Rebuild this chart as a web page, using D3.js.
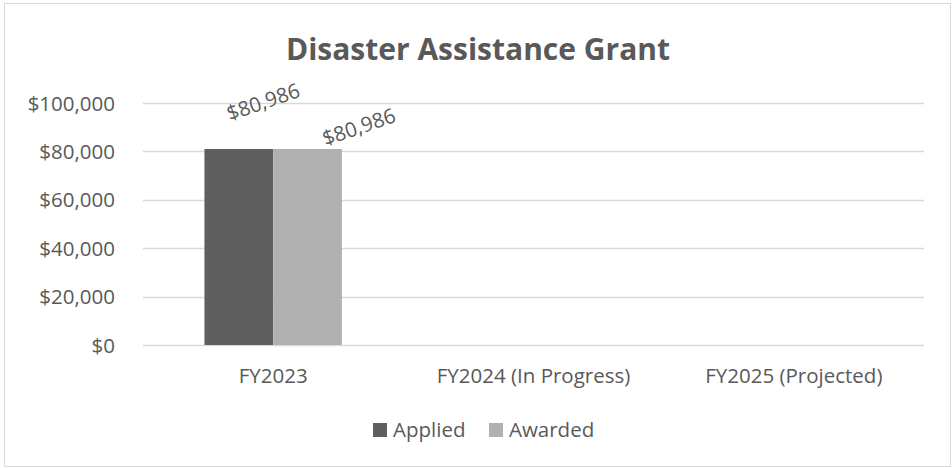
<!DOCTYPE html>
<html><head><meta charset="utf-8">
<script src="https://cdn.jsdelivr.net/npm/d3@7"></script>
<style>
body{margin:0;background:#fff;}
text{font-family:"Open Sans","DejaVu Sans",sans-serif;fill:#595959;}
</style></head>
<body><svg id="c" width="952" height="468"></svg>
<script>
const categories = ["FY2023", "FY2024 (In Progress)", "FY2025 (Projected)"];
const seriesNames = ["Applied", "Awarded"];
const applied = [80986, null, null];
const awarded = [80986, null, null];
const yTicks = [0, 20000, 40000, 60000, 80000, 100000];
const title = "Disaster Assistance Grant";
const colors = ["#5f5f5f", "#b0b0b0"];

const svg = d3.select("#c");
svg.append("rect").attr("x",4.5).attr("y",3.5).attr("width",946).attr("height",463)
  .attr("fill","#fff").attr("stroke","#d9d9d9").attr("stroke-width",1);

const m = {left:143, right:924, top:103, bottom:345};
const x = d3.scaleBand().domain(categories).range([m.left, m.right]).paddingInner(0.472).paddingOuter(0.236);
const x1 = d3.scaleBand().domain(seriesNames).range([0, x.bandwidth()]);
const y = d3.scaleLinear().domain([0,100000]).range([m.bottom, m.top]);
const fmt = v => "$" + d3.format(",")(v);
const fs = "20.5px";

// gridlines
svg.append("g").selectAll("line").data(yTicks).join("line")
  .attr("x1",m.left).attr("x2",m.right)
  .attr("y1",d=>Math.round(y(d))+0.5).attr("y2",d=>Math.round(y(d))+0.5)
  .attr("stroke","#d9d9d9").attr("stroke-width",1.3);

// y axis
const ya = svg.append("g").attr("transform",`translate(${m.left},0)`)
  .call(d3.axisLeft(y).tickValues(yTicks).tickFormat(fmt).tickSize(0).tickPadding(28));
ya.select(".domain").remove();
ya.selectAll("text").attr("font-size",fs).attr("fill","#595959").attr("font-family","Open Sans").attr("dy","0.35em");

// x axis
const xa = svg.append("g").attr("transform",`translate(0,${m.bottom})`)
  .call(d3.axisBottom(x).tickSize(0).tickPadding(23));
xa.select(".domain").remove();
xa.selectAll("text").attr("font-size",fs).attr("fill","#595959").attr("font-family","Open Sans");

// bars
const series = [applied, awarded];
seriesNames.forEach((s,si)=>{
  const data = categories.map((c,i)=>({c, v: series[si][i]})).filter(d=>d.v!=null);
  svg.append("g").selectAll("rect").data(data).join("rect")
    .attr("x",d=>x(d.c)+x1(s)).attr("width",x1.bandwidth())
    .attr("y",d=>y(d.v)).attr("height",d=>y(0)-y(d.v))
    .attr("fill",colors[si]);
  const off = si===0 ? [-9,-28] : [18,-3];
  svg.append("g").selectAll("text").data(data).join("text")
    .attr("transform",d=>`translate(${x(d.c)+x1(s)+x1.bandwidth()/2+off[0]},${y(d.v)+off[1]}) rotate(-19)`)
    .attr("font-size",fs).text(d=>fmt(d.v));
});

// title
svg.append("text").attr("x",478).attr("y",60).attr("text-anchor","middle")
  .attr("font-size","30px").attr("font-weight","bold").text(title);

// legend
const lg = svg.append("g");
const lx = [373, 489];
seriesNames.forEach((s,i)=>{
  lg.append("rect").attr("x",lx[i]).attr("y",423).attr("width",14).attr("height",14).attr("fill",colors[i]);
  lg.append("text").attr("x",lx[i]+20).attr("y",437).attr("font-size",fs).text(s);
});
</script></body></html>
